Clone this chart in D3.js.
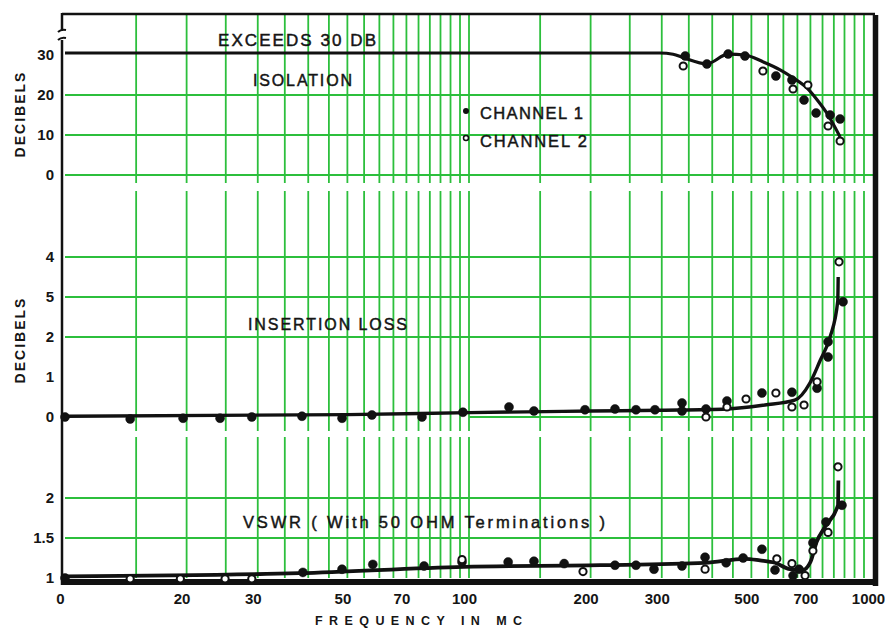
<!DOCTYPE html>
<html><head><meta charset="utf-8">
<script src="https://cdn.jsdelivr.net/npm/d3@7"></script>
<style>
body{margin:0;background:#fff}
svg{display:block}
text{font-family:"Liberation Sans",Arial,sans-serif;fill:#151515}
</style>
</head><body>
<svg id="c" width="885" height="629"></svg>
<script>
// ---------- data ----------
const xTickValues = [10, 20, 30, 50, 70, 100, 200, 300, 500, 700, 1000];
const xTickLabels = ["0", "20", "30", "50", "70", "100", "200", "300", "500", "700", "1000"];
const gridFreqs = [15,20,25,30,35,40,45,50,55,60,65,70,75,80,85,90,95,100,150,200,250,300,350,400,450,500,550,600,650,700,750,800,850,900,950];

const isoTicks = [30, 20, 10, 0];
const isoTickLabels = ["30", "20", "10", "0"];
const isoGrid = [20, 10, 0];
const ilTicks = [4, 3, 2, 1, 0];
const ilTickLabels = ["4", "5", "2", "1", "0"];
const ilGrid = [4, 3, 2, 0];
const vsTicks = [2, 1.5, 1];
const vsTickLabels = ["2", "1.5", "1"];
const vsGrid = [2, 1.5];

// isolation (dB) : [frequency MC, value]
const isoCurve = [[10,30.5],[297,30.5],[320,30.2],[340,29.3],[388,27.8],[438,30.2],[482,30],[534,28.3],[589,26.3],[634,24.3],[687,21.7],[727,18.8],[774,15],[829,9.5]];
const isoCh1 = [[343,29.75],[388,27.75],[438,30.25],[482,29.75],[575,24.75],[630,23.75],[675,18.75],[723,15.5],[783,15],[829,14]];
const isoCh2 = [[339,27.25],[534,26],[634,21.5],[690,22.5],[774,12.25],[829,8.5]];

// insertion loss (dB)
const ilCurve = [[10,0.02],[50,0.06],[100,0.11],[200,0.15],[300,0.17],[435,0.2],[540,0.3],[640,0.42],[698,0.85],[739,1.4],[783,2.0],[818,2.9],[820,3.5]];
const ilCh1 = [[10,0],[14.5,-0.05],[19.6,-0.03],[24.2,-0.03],[29,0],[38.6,0.02],[48.5,-0.03],[57.5,0.05],[76.5,0],[96.6,0.12],[125.6,0.25],[144.8,0.15],[193.7,0.18],[229.8,0.2],[259,0.18],[288.6,0.18],[336.7,0.35],[336.7,0.15],[386,0.2],[435,0.4],[531,0.6],[630,0.62],[727,0.72],[774,1.5],[774,1.88],[843,2.88]];
const ilCh2 = [[386,0],[435,0.25],[485,0.45],[575,0.6],[630,0.25],[675,0.3],[727,0.88],[824,3.88]];

// VSWR
const vsCurve = [[10,1.02],[38,1.06],[97,1.14],[211,1.16],[384,1.19],[482,1.24],[525,1.22],[572,1.19],[623,1.11],[670,1.1],[700,1.2],[725,1.45],[761,1.64],[819,1.91],[821,2.22]];
const vsCh1 = [[10,1.0],[38.8,1.07],[48.5,1.11],[57.8,1.17],[77.4,1.15],[96.1,1.2],[125,1.2],[144.8,1.21],[172,1.18],[229.8,1.16],[259,1.16],[287,1.11],[336.7,1.15],[384,1.26],[433,1.19],[477,1.25],[531,1.36],[572,1.1],[634,1.03],[656,1.11],[710,1.44],[765,1.7],[838,1.91]];
const vsCh2 = [[14.5,0.99],[19.3,0.99],[24.9,0.99],[29,0.99],[96.1,1.23],[191.5,1.08],[384,1.11],[578,1.24],[630,1.18],[679,1.03],[710,1.34],[774,1.57],[819,2.39]];

// ---------- drawing ----------
const svg = d3.select("#c");
const GREEN = "#2cbf3c";
const INK = "#111";

const x = d3.scaleLog().domain([10, 1000]).range([65, 873]);
const yIso = d3.scaleLinear().domain([0, 30]).range([175, 55]);
const yIL = d3.scaleLinear().domain([0, 4]).range([417, 257]);
const yVS = d3.scaleLinear().domain([1, 2]).range([578, 498]);

const left = x(10) - 3, right = x(1000);
const panels = [
  {y: yIso, grid: isoGrid, top: 14, bottom: 183, ticks: isoTicks, labels: isoTickLabels},
  {y: yIL, grid: ilGrid, top: 191, bottom: 431, ticks: ilTicks, labels: ilTickLabels},
  {y: yVS, grid: vsGrid, top: 437, bottom: 578, ticks: vsTicks, labels: vsTickLabels}
];

const g = svg.append("g");
panels.forEach((p, pi) => {
  g.append("g").selectAll("line").data(gridFreqs).join("line")
    .attr("x1", d => x(d)).attr("x2", d => x(d))
    .attr("y1", p.top).attr("y2", p.bottom)
    .attr("stroke", GREEN).attr("stroke-width", 1.8);
  g.append("g").selectAll("line").data(p.grid).join("line")
    .attr("x1", d => (pi === 1 && d === 0) ? x(100) : left + 3).attr("x2", right)
    .attr("y1", d => p.y(d)).attr("y2", d => p.y(d))
    .attr("stroke", GREEN).attr("stroke-width", 1.8);
  const ax = d3.axisLeft(p.y).tickValues(p.ticks).tickFormat((d, i) => p.labels[i]).tickSize(0).tickPadding(0);
  const ag = svg.append("g").attr("transform", `translate(${left - 8},0)`).call(ax);
  ag.select(".domain").remove();
  ag.selectAll("text").attr("font-size", 15).attr("font-weight", "bold")
    .style("font-family", '"Liberation Sans",Arial,sans-serif').attr("fill", INK);
});

// frame
svg.append("line").attr("x1", left).attr("x2", right + 2).attr("y1", 14).attr("y2", 14)
  .attr("stroke", INK).attr("stroke-width", 2.5);
svg.append("line").attr("x1", left).attr("x2", left).attr("y1", 13).attr("y2", 31)
  .attr("stroke", INK).attr("stroke-width", 2.5);
svg.append("line").attr("x1", left).attr("x2", left).attr("y1", 40).attr("y2", 585)
  .attr("stroke", INK).attr("stroke-width", 2.5);
svg.append("path").attr("d", `M${left-4},32 q3,-3 8,-2 M${left-4},40 q3,-3 8,-2`)
  .attr("fill", "none").attr("stroke", INK).attr("stroke-width", 2);
svg.append("line").attr("x1", right + 2.5).attr("x2", right + 2.5).attr("y1", 15).attr("y2", 586)
  .attr("stroke", INK).attr("stroke-width", 5.5);
svg.append("line").attr("x1", left).attr("x2", right + 5).attr("y1", 582).attr("y2", 582)
  .attr("stroke", INK).attr("stroke-width", 6);

// curves
const mk = y => d3.line().x(d => x(d[0])).y(d => y(d[1])).curve(d3.curveMonotoneX);
svg.append("path").attr("d", mk(yIso)(isoCurve)).attr("fill", "none").attr("stroke", INK).attr("stroke-width", 3.2);
svg.append("path").attr("d", mk(yIL)(ilCurve)).attr("fill", "none").attr("stroke", INK).attr("stroke-width", 3.4);
svg.append("path").attr("d", mk(yVS)(vsCurve)).attr("fill", "none").attr("stroke", INK).attr("stroke-width", 3.8);

// points
function dots(data, y, filled) {
  svg.append("g").selectAll("circle").data(data).join("circle")
    .attr("cx", d => x(d[0])).attr("cy", d => y(d[1]))
    .attr("r", filled ? 4.5 : 3.6)
    .attr("fill", filled ? INK : "#fff")
    .attr("stroke", INK).attr("stroke-width", filled ? 0.5 : 2);
}
dots(isoCh1, yIso, true); dots(isoCh2, yIso, false);
dots(ilCh1, yIL, true); dots(ilCh2, yIL, false);
dots(vsCh1, yVS, true); dots(vsCh2, yVS, false);

// x axis
const xa = d3.axisBottom(x).tickValues(xTickValues).tickFormat((d, i) => xTickLabels[i]).tickSize(0).tickPadding(0);
const xg = svg.append("g").attr("transform", "translate(-5,593)").call(xa);
xg.select(".domain").remove();
xg.selectAll("text").attr("font-size", 15).attr("font-weight", "bold")
  .style("font-family", '"Liberation Sans",Arial,sans-serif').attr("fill", INK);

// titles
function label(txt, x0, y0, w, size, weight) {
  svg.append("text").attr("x", x0).attr("y", y0).attr("font-size", size)
    .attr("font-weight", weight || "normal")
    .attr("stroke", "#151515").attr("stroke-width", weight ? 0 : 0.45)
    .attr("textLength", w).attr("lengthAdjust", "spacing").text(txt);
}
label("FREQUENCY   IN   MC", 315, 625, 207, 12.5, "bold");
label("EXCEEDS 30 DB", 218, 46, 158, 17);
label("ISOLATION", 253, 86, 99, 16);
label("CHANNEL 1", 480, 119, 103, 16.5);
label("CHANNEL 2", 480, 147, 107, 16.5);
label("INSERTION LOSS", 248, 330, 159, 16);
label("VSWR ( With 50 OHM Terminations )", 243, 528, 362, 16.5);

svg.append("circle").attr("cx", 466).attr("cy", 111).attr("r", 3).attr("fill", INK);
svg.append("circle").attr("cx", 466).attr("cy", 138).attr("r", 2.5).attr("fill", "#fff").attr("stroke", INK).attr("stroke-width", 1.5);

[[114], [340]].forEach(([cy]) => {
  svg.append("text").attr("transform", `translate(25,${cy}) rotate(-90)`)
    .attr("text-anchor", "middle").attr("font-size", 14).attr("font-weight", "bold")
    .attr("letter-spacing", 2).text("DECIBELS");
});
</script>
</body></html>
